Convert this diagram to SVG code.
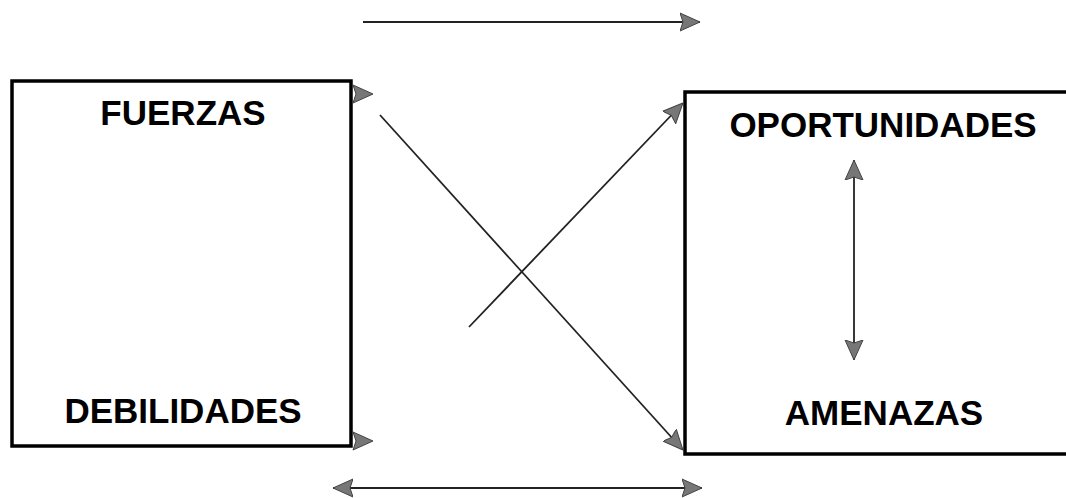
<svg xmlns="http://www.w3.org/2000/svg" width="1066" height="498" viewBox="0 0 1066 498">
<style>
.box{fill:#fff;stroke:#000;stroke-width:3.5}
.lbl{font-family:"Liberation Sans",Arial,sans-serif;font-weight:bold;font-size:35px;fill:#000;text-anchor:middle}
.con{stroke:#222;stroke-width:1.8;fill:none}
.head{fill:#777;stroke:#444;stroke-width:1}
</style>
<defs>
<marker id="ah" viewBox="0 0 20 20" refX="20" refY="10" markerWidth="20" markerHeight="20" markerUnits="userSpaceOnUse" orient="auto-start-reverse">
<path d="M0,1 L20,10 L0,19 L3,10 Z" class="head"/>
</marker>
</defs>
<rect width="1066" height="498" fill="#fff"/>
<g id="node-fuerzas-debilidades">
<rect class="box" x="12" y="81" width="339" height="365"/>
<text class="lbl" x="183" y="125">FUERZAS</text>
<text class="lbl" x="183" y="423">DEBILIDADES</text>
</g>
<g id="node-oportunidades-amenazas">
<rect class="box" x="685" y="92" width="400" height="362"/>
<text class="lbl" x="883" y="137">OPORTUNIDADES</text>
<text class="lbl" x="884" y="425">AMENAZAS</text>
</g>
<g id="connectors">
<line class="con" x1="363" y1="22" x2="700" y2="22" marker-end="url(#ah)"/>
<line class="con" x1="333" y1="488" x2="702" y2="488" marker-start="url(#ah)" marker-end="url(#ah)"/>
<line class="con" x1="380" y1="115" x2="683" y2="450" marker-end="url(#ah)"/>
<line class="con" x1="469" y1="327" x2="683" y2="103" marker-end="url(#ah)"/>
<line class="con" x1="854" y1="160" x2="854" y2="360" marker-start="url(#ah)" marker-end="url(#ah)"/>
<path class="head" d="M353,85 L373,94 L353,103 L356,94 Z"/>
<path class="head" d="M353,432 L373,441 L353,450 L356,441 Z"/>
</g>
</svg>
